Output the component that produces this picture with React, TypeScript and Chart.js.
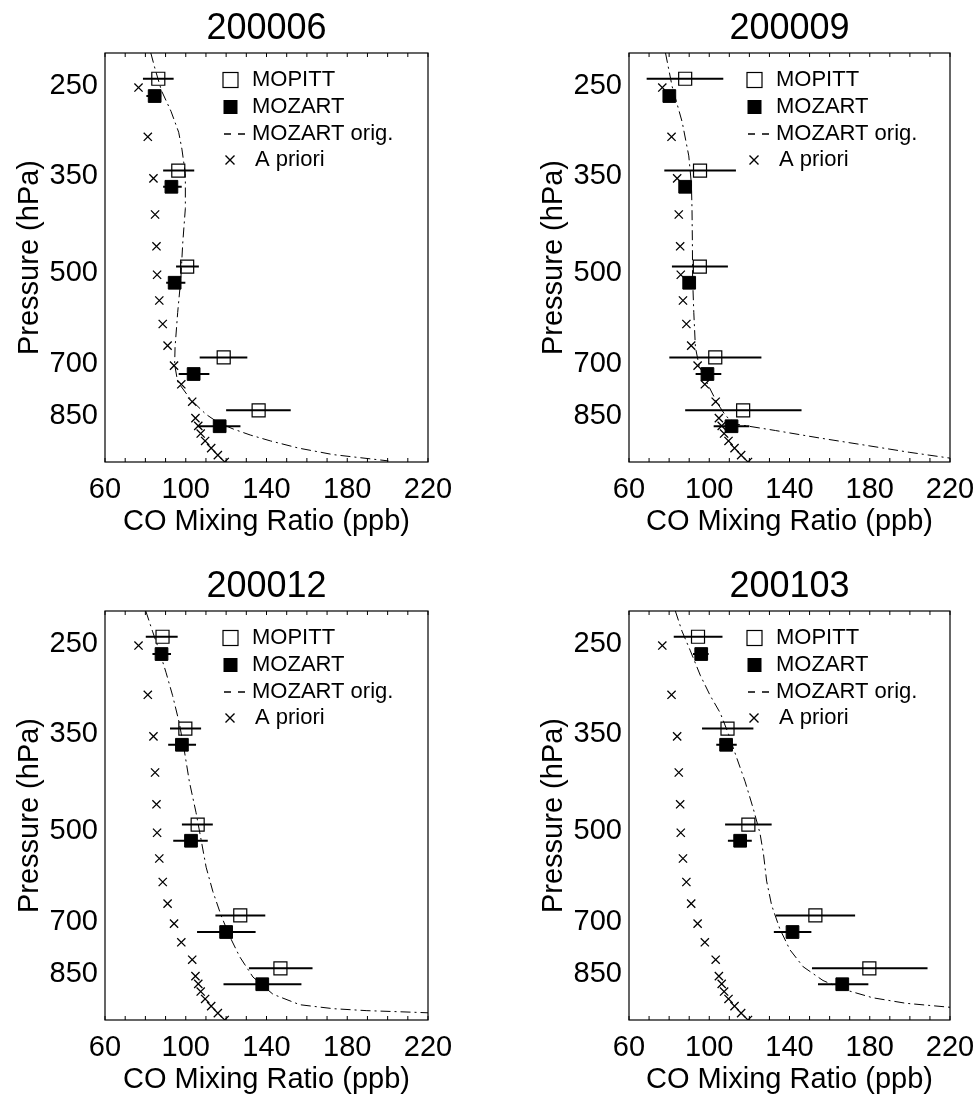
import React, { useEffect, useRef } from 'react';
import { Chart, registerables } from 'chart.js';

Chart.register(...registerables);

const FONT = "'Liberation Sans', Arial, Helvetica, sans-serif";
Chart.defaults.font.family = FONT;
Chart.defaults.color = '#000';

// ---------------- data ----------------
const panelTitles = ['200006', '200009', '200012', '200103'];
const xTickLabels = [60, 100, 140, 180, 220];
const yTickLabels = [250, 350, 500, 700, 850];
const legendLabels = ['MOPITT', 'MOZART', 'MOZART orig.', 'A priori'];
const xAxisTitle = 'CO Mixing Ratio (ppb)';
const yAxisTitle = 'Pressure (hPa)';

// pressure (hPa) at which each series is plotted
const mopittP = [242, 340, 485, 679, 826];
const mozartP = [258, 361, 515, 722, 876];

// a priori profile (same in every panel)
const aprioriP = [250, 300, 350, 400, 450, 500, 550, 600, 650, 700, 750, 800, 850, 875, 900, 925, 950, 975, 1000];
const aprioriCO = [76.6, 81.2, 84.0, 84.8, 85.5, 85.8, 86.9, 88.6, 91.0, 94.2, 97.8, 103.2, 104.8, 106.2, 107.4, 109.6, 112.6, 115.9, 119.3];

// 200006
const mopitt200006 = [86.4, 96.3, 100.7, 118.8, 136.1];
const mopittLo200006 = [78.8, 88.8, 95.2, 106.9, 120.0];
const mopittHi200006 = [94.0, 104.2, 106.5, 130.5, 152.0];
const mozart200006 = [84.6, 92.9, 94.5, 103.9, 116.8];
const mozartLo200006 = [80.5, 88.8, 90.3, 96.5, 105.9];
const mozartHi200006 = [87.8, 98.0, 99.8, 111.7, 127.1];
const origP200006 = [220, 234, 253, 273, 295, 314, 344, 391, 445, 506, 575, 654, 697, 743, 794, 838, 864, 885, 905, 925, 950, 973, 996];
const origCO200006 = [82.7, 84.9, 88.0, 92.7, 96.5, 98.1, 99.8, 99.8, 98.5, 97.6, 96.0, 94.7, 94.5, 96.0, 102.5, 110.0, 116.0, 123.5, 132.0, 142.0, 156.0, 173.0, 200.4];

// 200009
const mopitt200009 = [88.0, 95.4, 95.3, 103.0, 116.9];
const mopittLo200009 = [68.8, 77.6, 81.4, 80.1, 88.0];
const mopittHi200009 = [107.0, 113.3, 109.3, 126.0, 146.0];
const mozart200009 = [80.1, 88.0, 90.0, 99.1, 111.1];
const mozartLo200009 = [78.5, 86.5, 88.5, 93.2, 102.2];
const mozartHi200009 = [82.0, 90.0, 91.5, 106.0, 120.0];
const origP200009 = [220, 249, 284, 322, 357, 391, 445, 506, 575, 654, 697, 743, 803, 844, 870, 890, 915, 940, 965, 990];
const origCO200009 = [78.2, 81.5, 86.5, 89.8, 91.1, 91.4, 91.6, 91.7, 92.3, 93.1, 94.8, 98.6, 103.9, 108.3, 114.0, 133.0, 155.0, 178.0, 200.0, 224.0];

// 200012
const mopitt200012 = [88.5, 99.8, 105.9, 127.0, 146.9];
const mopittLo200012 = [80.2, 92.2, 98.1, 114.7, 131.3];
const mopittHi200012 = [96.0, 107.6, 113.4, 139.4, 162.8];
const mozart200012 = [88.0, 98.1, 102.6, 120.0, 137.9];
const mozartLo200012 = [83.5, 91.3, 93.8, 105.6, 118.7];
const mozartHi200012 = [92.7, 105.1, 110.9, 134.6, 157.3];
const origP200012 = [220, 237, 255, 276, 301, 333, 369, 414, 464, 513, 568, 621, 679, 733, 791, 853, 909, 945, 959, 966, 970, 975];
const origCO200012 = [80.2, 83.5, 86.9, 90.2, 93.5, 96.8, 99.3, 101.8, 105.1, 107.6, 110.1, 113.4, 117.5, 121.7, 126.7, 133.3, 143.2, 156.5, 173.1, 189.7, 206.2, 225.0];

// 200103
const mopitt200103 = [94.4, 109.1, 119.5, 152.9, 179.8];
const mopittLo200103 = [82.3, 96.4, 107.9, 133.2, 151.2];
const mopittHi200103 = [106.6, 122.0, 131.1, 172.7, 208.8];
const mozart200103 = [96.0, 108.4, 115.4, 141.5, 166.3];
const mozartLo200103 = [91.9, 103.5, 109.3, 132.2, 154.2];
const mozartHi200103 = [99.7, 113.7, 121.2, 150.9, 179.3];
const origP200103 = [220, 237, 255, 279, 301, 321, 347, 379, 414, 458, 501, 540, 598, 654, 714, 771, 821, 864, 892, 921, 940, 954];
const origCO200103 = [83.1, 86.4, 90.6, 95.5, 100.5, 105.5, 109.6, 113.7, 117.9, 122.0, 125.3, 127.0, 128.6, 131.1, 135.2, 140.2, 146.8, 156.7, 166.6, 181.5, 198.0, 220.0];

const panels = [
  { title: panelTitles[0], mopitt: mopitt200006, mopittLo: mopittLo200006, mopittHi: mopittHi200006, mozart: mozart200006, mozartLo: mozartLo200006, mozartHi: mozartHi200006, origP: origP200006, origCO: origCO200006 },
  { title: panelTitles[1], mopitt: mopitt200009, mopittLo: mopittLo200009, mopittHi: mopittHi200009, mozart: mozart200009, mozartLo: mozartLo200009, mozartHi: mozartHi200009, origP: origP200009, origCO: origCO200009 },
  { title: panelTitles[2], mopitt: mopitt200012, mopittLo: mopittLo200012, mopittHi: mopittHi200012, mozart: mozart200012, mozartLo: mozartLo200012, mozartHi: mozartHi200012, origP: origP200012, origCO: origCO200012 },
  { title: panelTitles[3], mopitt: mopitt200103, mopittLo: mopittLo200103, mopittHi: mopittHi200103, mozart: mozart200103, mozartLo: mozartLo200103, mozartHi: mozartHi200103, origP: origP200103, origCO: origCO200103 },
];

// ---------------- layout ----------------
const CANVAS_W = 453;
const CANVAS_H = 548;
const Y_AXIS_W = 105;
const X_AXIS_H = 86;

// ---------------- plugins ----------------
const framePlugin = {
  id: 'frame',
  afterDraw(chart: any) {
    const { ctx, chartArea: a, scales } = chart;
    const x = scales.x;
    ctx.save();
    ctx.strokeStyle = '#000';
    ctx.lineWidth = 1.2;
    ctx.strokeRect(a.left, a.top, a.right - a.left, a.bottom - a.top);
    ctx.lineWidth = 1;
    ctx.beginPath();
    for (const t of x.ticks) {
      const px = x.getPixelForValue(t.value);
      ctx.moveTo(px, a.bottom);
      ctx.lineTo(px, a.bottom - 4);
      ctx.moveTo(px, a.top);
      ctx.lineTo(px, a.top + 4);
    }
    ctx.stroke();
    ctx.restore();
  },
};

const legendPlugin = {
  id: 'profileLegend',
  afterDraw(chart: any) {
    const { ctx, chartArea: a } = chart;
    const x0 = a.left;
    const y0 = a.top;
    const mx = x0 + 125.5;
    const rows = [27, 54, 81, 107];
    ctx.save();
    ctx.strokeStyle = '#000';
    ctx.fillStyle = '#000';
    // open square
    ctx.lineWidth = 1.2;
    ctx.strokeRect(mx - 7.5, y0 + rows[0] - 7.5, 15, 15);
    // filled square
    ctx.fillRect(mx - 7, y0 + rows[1] - 7, 14, 14);
    // dashed sample
    ctx.lineWidth = 1.5;
    ctx.beginPath();
    ctx.moveTo(x0 + 119, y0 + rows[2]);
    ctx.lineTo(x0 + 126, y0 + rows[2]);
    ctx.moveTo(x0 + 133, y0 + rows[2]);
    ctx.lineTo(x0 + 140, y0 + rows[2]);
    ctx.stroke();
    // cross
    ctx.lineWidth = 1.4;
    ctx.beginPath();
    const cx = x0 + 125;
    const cy = y0 + rows[3];
    ctx.moveTo(cx - 4.5, cy - 4.5);
    ctx.lineTo(cx + 4.5, cy + 4.5);
    ctx.moveTo(cx + 4.5, cy - 4.5);
    ctx.lineTo(cx - 4.5, cy + 4.5);
    ctx.stroke();
    // labels
    ctx.font = `22px ${FONT}`;
    ctx.textAlign = 'left';
    ctx.textBaseline = 'middle';
    ctx.fillText(legendLabels[0], x0 + 147, y0 + rows[0]);
    ctx.fillText(legendLabels[1], x0 + 147, y0 + rows[1]);
    ctx.fillText(legendLabels[2], x0 + 147, y0 + rows[2]);
    ctx.fillText(legendLabels[3], x0 + 150, y0 + rows[3]);
    ctx.restore();
  },
};

function barData(lo: number[], hi: number[], p: number[]) {
  const out: any[] = [];
  for (let i = 0; i < p.length; i++) {
    out.push({ x: lo[i], y: p[i] });
    out.push({ x: hi[i], y: p[i] });
    out.push({ x: null, y: null });
  }
  return out;
}

function pts(xs: number[], ys: number[]) {
  return xs.map((v, i) => ({ x: v, y: ys[i] }));
}

function makeConfig(idx: number, rightPad: number): any {
  const pnl = panels[idx];
  return {
    type: 'scatter',
    data: {
      datasets: [
        {
          label: legendLabels[0],
          data: pts(pnl.mopitt, mopittP),
          pointStyle: 'rect',
          pointRadius: 9.2,
          backgroundColor: 'rgba(0,0,0,0)',
          borderColor: '#000',
          borderWidth: 1.2,
          order: 0,
        },
        {
          label: legendLabels[1],
          data: pts(pnl.mozart, mozartP),
          pointStyle: 'rect',
          pointRadius: 9.0,
          backgroundColor: '#000',
          borderColor: '#000',
          borderWidth: 1,
          order: 1,
        },
        {
          label: 'MOPITT range',
          data: barData(pnl.mopittLo, pnl.mopittHi, mopittP),
          showLine: true,
          pointRadius: 0,
          borderColor: '#000',
          borderWidth: 2,
          spanGaps: false,
          order: 2,
        },
        {
          label: 'MOZART range',
          data: barData(pnl.mozartLo, pnl.mozartHi, mozartP),
          showLine: true,
          pointRadius: 0,
          borderColor: '#000',
          borderWidth: 2,
          spanGaps: false,
          order: 3,
        },
        {
          label: legendLabels[3],
          data: pts(aprioriCO, aprioriP),
          pointStyle: 'crossRot',
          pointRadius: 5.8,
          borderColor: '#000',
          borderWidth: 1.3,
          order: 4,
        },
        {
          label: legendLabels[2],
          data: pts(pnl.origCO, pnl.origP),
          showLine: true,
          pointRadius: 0,
          borderColor: '#000',
          borderWidth: 1,
          borderDash: [10, 4, 2, 4],
          tension: 0,
          order: 5,
        },
      ],
    },
    options: {
      responsive: false,
      animation: false,
      events: [],
      layout: { padding: { left: 0, right: rightPad, top: 0, bottom: 0 } },
      plugins: {
        legend: { display: false },
        tooltip: { enabled: false },
        title: {
          display: true,
          text: pnl.title,
          fullSize: false,
          color: '#000',
          font: { family: FONT, size: 36, weight: 'normal', lineHeight: 1.2 },
          padding: { top: 7.4, bottom: 2.4 },
        },
      },
      scales: {
        x: {
          type: 'linear',
          position: 'bottom',
          min: 60,
          max: 220,
          afterBuildTicks: (s: any) => {
            const t: any[] = [];
            for (let v = 60; v <= 220; v += 10) t.push({ value: v });
            s.ticks = t;
          },
          afterFit: (s: any) => {
            s.height = X_AXIS_H;
          },
          ticks: {
            autoSkip: false,
            maxRotation: 0,
            minRotation: 0,
            padding: 0,
            color: '#000',
            font: { family: FONT, size: 29, lineHeight: 1.2 },
            callback: (v: any) => (xTickLabels.includes(Number(v)) ? String(v) : ''),
          },
          grid: {
            display: true,
            drawOnChartArea: false,
            drawTicks: true,
            tickLength: 10.6,
            tickColor: 'rgba(0,0,0,0)',
            color: 'rgba(0,0,0,0)',
          },
          border: { display: false },
          title: {
            display: true,
            text: xAxisTitle,
            color: '#000',
            font: { family: FONT, size: 29, lineHeight: 1.2 },
            padding: { top: 0, bottom: 8.6 },
          },
        },
        y: {
          type: 'logarithmic',
          position: 'left',
          reverse: true,
          min: 220,
          max: 1000,
          afterBuildTicks: (s: any) => {
            s.ticks = yTickLabels.map((v) => ({ value: v }));
          },
          afterFit: (s: any) => {
            s.width = Y_AXIS_W;
          },
          ticks: {
            padding: 7,
            labelOffset: -2,
            color: '#000',
            font: { family: FONT, size: 29, lineHeight: 1.2 },
            callback: (v: any) => String(v),
          },
          grid: { display: false, drawTicks: false },
          border: { display: false },
          title: {
            display: true,
            text: yAxisTitle,
            color: '#000',
            font: { family: FONT, size: 29, lineHeight: 1.2 },
            padding: { top: 12.6, bottom: 0 },
          },
        },
      },
    },
    plugins: [framePlugin, legendPlugin],
  };
}

function Panel({ idx, left, top, rightPad }: { idx: number; left: number; top: number; rightPad: number }) {
  const ref = useRef<HTMLCanvasElement | null>(null);
  useEffect(() => {
    if (!ref.current) return;
    const chart = new Chart(ref.current, makeConfig(idx, rightPad));
    return () => chart.destroy();
  }, [idx, rightPad]);
  return (
    <canvas
      ref={ref}
      width={CANVAS_W}
      height={CANVAS_H}
      style={{ position: 'absolute', left, top, width: CANVAS_W, height: CANVAS_H }}
    />
  );
}

export default function App() {
  return (
    <div
      style={{
        position: 'absolute',
        left: 0,
        top: 0,
        width: 977,
        height: 1096,
        overflow: 'hidden',
        background: '#fff',
      }}
    >
      <Panel idx={0} left={0} top={0} rightPad={25} />
      <Panel idx={1} left={524} top={0} rightPad={27} />
      <Panel idx={2} left={0} top={558} rightPad={25} />
      <Panel idx={3} left={524} top={558} rightPad={27} />
    </div>
  );
}
